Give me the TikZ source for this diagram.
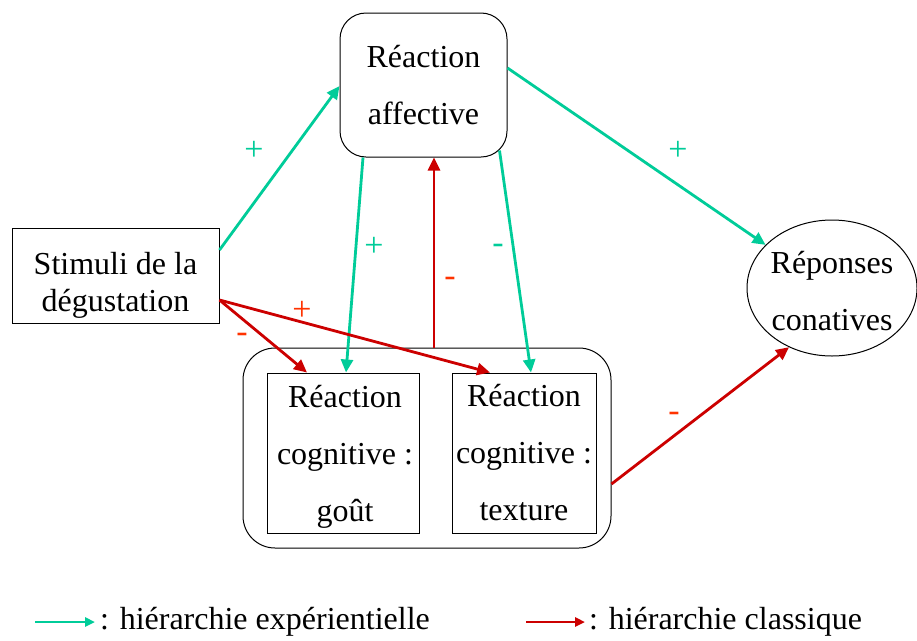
\documentclass[tikz,border=0pt]{standalone}
\usepackage{fontspec}
\setmainfont{Liberation Serif}
\usetikzlibrary{arrows.meta,shapes.geometric,calc}
\definecolor{grn}{RGB}{0,204,153}
\definecolor{rd}{RGB}{204,0,0}
\definecolor{lblred}{RGB}{255,51,0}
\begin{document}
\begin{tikzpicture}[x=1pt,y=-1pt,
  txt/.style={font=\fontsize{32}{57}\selectfont, align=center},
  boxa/.style={draw=black, line width=1pt, inner sep=0pt},
  garr/.style={draw=grn, line width=2.8pt, -{Triangle[length=13pt,width=12pt]}},
  rarr/.style={draw=rd, line width=2.8pt, -{Triangle[length=13pt,width=12pt]}},
  glbl/.style={text=grn, font=\fontsize{34}{34}\selectfont, inner sep=0pt},
  rlbl/.style={text=lblred, font=\fontsize{34}{34}\selectfont, inner sep=0pt}]
\useasboundingbox (0,0) rectangle (917,640);
\fill[white] (0,0) rectangle (917,640);

% shapes
\node[boxa, txt, rounded corners=26pt, minimum width=167pt, minimum height=144pt] (aff) at (423.5,85) {Réaction\\affective};
\node[boxa, minimum width=207pt, minimum height=95pt] (stim) at (115.5,276) {};
\node[font=\fontsize{32}{37}\selectfont, align=center] (stimt) at (115.5,285) {Stimuli de la\\dégustation};
\node[boxa, ellipse, minimum width=170pt, minimum height=136pt] (ell) at (832,288) {};
\node[txt] (ellt) at (832,291) {Réponses\\conatives};
\node[boxa, rounded corners=32pt, minimum width=368pt, minimum height=200pt] (big) at (427,448) {};
\node[boxa, minimum width=152pt, minimum height=160pt] (g1) at (343,453) {};
\node[txt] (g1t) at (345,457) {Réaction\\cognitive :\\goût};
\node[boxa, txt, minimum width=144pt, minimum height=160pt] (g2) at (524,453) {Réaction\\cognitive :\\texture};

% green arrows
\draw[garr] (stim.east |- 0,250) -- (aff.west |- 0,86);
\draw[garr] (aff.east |- 0,68) -- (ell.147);
\draw[garr] (aff.south -| 363,0) -- (g1.north -| 346,0);
\draw[garr] ($(aff.south east)+(-8,-7)$) -- (g2.north -| 531,0);

% red arrows
\draw[rarr] (stim.east |- 0,300) -- (g1.north -| 307,0);
\draw[rarr] (stim.east |- 0,300) -- (g2.north -| 490,0);
\draw[rarr] (big.north -| 434,0) -- (aff.south -| 434,0);
\draw[rarr] (big.east |- 0,484) -- (ell.234);

% labels
\node[glbl] (l1) at (254,151) {+};
\node[glbl] (l2) at (374,247) {+};
\node[glbl] (l3) at (498,249) {-};
\node[glbl] (l4) at (678,151) {+};
\node[rlbl] (l5) at (302,311) {+};
\node[rlbl] (l6) at (242,338) {-};
\node[rlbl] (l7) at (450,282) {-};
\node[rlbl] (l8) at (674,417) {-};

% legend
\coordinate (lg1) at (35,622);
\coordinate (lg2) at (95,622);
\coordinate (lr1) at (526,622);
\coordinate (lr2) at (585,622);
\draw[draw=grn, line width=2.8pt, -{Triangle[length=10pt,width=9pt]}] (lg1) -- (lg2);
\draw[draw=rd, line width=2.8pt, -{Triangle[length=10pt,width=9pt]}] (lr1) -- (lr2);
\node[anchor=west, font=\fontsize{32}{32}\selectfont, inner sep=0pt] (lgt) at (100,622) {: hiérarchie expérientielle};
\node[anchor=west, font=\fontsize{32}{32}\selectfont, inner sep=0pt] (lrt) at (589,622) {: hiérarchie classique};
\end{tikzpicture}
\end{document}
